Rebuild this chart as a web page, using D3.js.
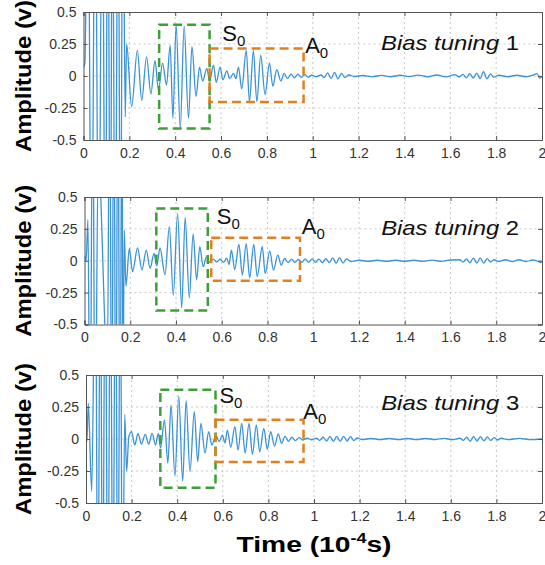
<!DOCTYPE html>
<html>
<head>
<meta charset="utf-8">
<script src="https://cdn.jsdelivr.net/npm/d3@7"></script>
<style>
  body { margin: 0; background: #fff; }
  svg { display: block; font-family: "Liberation Sans", Arial, sans-serif; }
  .grid line { stroke: #c8c8c8; stroke-dasharray: 2,3; }
</style>
</head>
<body>
<div id="chart"></div>
<script>

// ---------- data ----------

var timeTicks = [0, 0.2, 0.4, 0.6, 0.8, 1, 1.2, 1.4, 1.6, 1.8, 2];
var ampTicks = [-0.5, -0.25, 0, 0.25, 0.5];
var ampLabels = ["-0.5", "-0.25", "0", "0.25", "0.5"];
var tuningNames = ["1", "2", "3"];

// extrema of each trace [time (1e-4 s), amplitude (v)]
var signal1 = [
  [0,0.07],[0.006,0.1],[0.019,1.8],[0.035,-1.8],[0.051,1.8],[0.066,-1.8],[0.082,1.8],[0.095,-1.8],
  [0.106,1.8],[0.117,-1.8],[0.126,1.8],[0.138,-1.8],[0.151,1.8],[0.161,-1.8],[0.172,1.8],
  [0.182,-0.32],[0.188,0.25],[0.21,-0.24],[0.235,0.2],[0.254,-0.19],[0.275,0.15],[0.294,-0.14],
  [0.312,0.12],[0.327,-0.11],[0.345,0.1],[0.362,-0.07],[0.378,0.24],[0.39,-0.33],[0.404,0.4],
  [0.422,-0.41],[0.439,0.39],[0.458,-0.33],[0.473,0.23],[0.491,-0.16],[0.506,0.07],[0.52,-0.04],
  [0.538,0.06],[0.55,-0.04],[0.567,0.085],[0.579,-0.05],[0.596,0.07],[0.608,-0.03],[0.625,0.04],
  [0.638,-0.02],[0.654,0.02],[0.665,-0.02],[0.676,0.07],[0.69,-0.1],[0.71,0.2],[0.724,-0.2],
  [0.741,0.2],[0.756,-0.2],[0.773,0.16],[0.792,-0.145],[0.811,0.1],[0.826,-0.08],[0.843,0.05],
  [0.861,-0.04],[0.875,0.02],[0.89,-0.02],[0.905,0.015],[0.92,-0.015],[0.935,0.015],[0.95,-0.01],
  [0.965,0.012],[0.98,-0.01],[0.995,0.006],[1.015,-0.006],[1.035,0.008],[1.05,-0.012],[1.065,0.024],
  [1.08,-0.02],[1.095,0.028],[1.11,-0.022],[1.125,0.02],[1.14,-0.012],[1.158,0.008],[1.18,-0.004],
  [1.22,0.004],[1.26,-0.005],[1.3,0.005],[1.34,-0.006],[1.38,0.006],[1.42,-0.005],[1.46,0.007],
  [1.5,-0.006],[1.54,0.008],[1.58,-0.007],[1.62,0.01],[1.64,-0.008],[1.655,0.012],[1.67,-0.014],
  [1.685,0.018],[1.7,-0.016],[1.715,0.022],[1.73,-0.02],[1.745,0.034],[1.76,-0.022],[1.775,0.016],
  [1.79,-0.01],[1.81,0.006],[1.85,-0.006],[1.89,0.006],[1.93,-0.006],[1.96,0.006],[1.978,0.018],
  [1.99,-0.018],[2,0]
];
var signal2 = [
  [0,0.04],[0.007,0],[0.015,0.32],[0.024,-1.6],[0.036,1.6],[0.046,-1.6],[0.06,0.8],[0.1,-0.8],
  [0.11,1.6],[0.119,-1.6],[0.128,1.6],[0.137,-1.6],[0.146,1.6],[0.155,-1.6],[0.164,1.6],[0.168,-1.2],
  [0.174,0.24],[0.181,-0.2],[0.196,0.096],[0.21,-0.086],[0.232,0.1],[0.251,-0.073],[0.27,0.083],
  [0.287,-0.06],[0.304,0.057],[0.316,-0.04],[0.33,0.1],[0.352,-0.11],[0.371,0.27],[0.388,-0.27],
  [0.407,0.37],[0.425,-0.37],[0.44,0.34],[0.458,-0.29],[0.475,0.21],[0.49,-0.15],[0.504,0.11],
  [0.519,-0.047],[0.533,0.03],[0.548,-0.015],[0.563,0.012],[0.578,-0.01],[0.593,0.012],[0.608,-0.012],
  [0.622,0.02],[0.632,-0.03],[0.642,0.083],[0.657,-0.07],[0.675,0.128],[0.69,-0.11],[0.707,0.135],
  [0.722,-0.133],[0.74,0.128],[0.755,-0.125],[0.777,0.11],[0.79,-0.1],[0.81,0.075],[0.826,-0.073],
  [0.845,0.044],[0.86,-0.034],[0.875,0.018],[0.89,-0.015],[0.905,0.012],[0.92,-0.012],[0.935,0.01],
  [0.95,-0.012],[0.965,0.014],[0.98,-0.012],[0.995,0.014],[1.01,-0.012],[1.025,0.012],[1.04,-0.014],
  [1.055,0.016],[1.07,-0.014],[1.085,0.022],[1.1,-0.02],[1.115,0.024],[1.13,-0.018],[1.145,0.014],
  [1.165,-0.006],[1.2,0.004],[1.24,-0.004],[1.28,0.004],[1.32,-0.004],[1.36,0.004],[1.4,-0.004],
  [1.44,0.004],[1.48,-0.004],[1.52,0.005],[1.56,-0.005],[1.6,0.006],[1.64,0.008],[1.655,-0.01],
  [1.67,0.014],[1.685,-0.016],[1.7,0.02],[1.715,-0.018],[1.73,0.022],[1.745,-0.018],[1.76,0.016],
  [1.775,-0.01],[1.79,0.008],[1.81,-0.006],[1.84,0.008],[1.87,-0.006],[1.9,0.008],[1.93,-0.006],
  [1.96,0.006],[1.985,-0.006],[1.995,-0.015],[2,-0.005]
];
var signal3 = [
  [0,0],[0.004,-0.02],[0.01,0.28],[0.025,-0.41],[0.041,1.6],[0.052,-1.6],[0.063,1.6],[0.073,-1.6],
  [0.084,1.6],[0.096,-1.6],[0.107,1.6],[0.118,-1.6],[0.129,1.6],[0.14,-1.6],[0.15,1.6],[0.16,-1.6],
  [0.17,0.19],[0.178,-0.25],[0.188,0.02],[0.2,0.057],[0.214,-0.047],[0.228,0.044],[0.243,-0.04],
  [0.26,0.036],[0.275,-0.04],[0.29,0.044],[0.305,-0.047],[0.317,0.044],[0.327,-0.07],[0.344,0.15],
  [0.359,-0.19],[0.373,0.265],[0.39,-0.29],[0.407,0.335],[0.424,-0.33],[0.439,0.3],[0.456,-0.255],
  [0.475,0.213],[0.49,-0.177],[0.504,0.122],[0.522,-0.11],[0.538,0.057],[0.552,-0.047],[0.57,0.03],
  [0.584,-0.02],[0.598,0.03],[0.61,-0.03],[0.62,0.07],[0.635,-0.065],[0.653,0.096],[0.667,-0.086],
  [0.683,0.122],[0.698,-0.11],[0.715,0.122],[0.73,-0.12],[0.747,0.11],[0.762,-0.1],[0.78,0.083],
  [0.795,-0.08],[0.81,0.057],[0.827,-0.055],[0.843,0.039],[0.858,-0.034],[0.873,0.02],[0.888,-0.018],
  [0.903,0.014],[0.918,-0.012],[0.935,0.01],[0.95,-0.008],[0.97,0.006],[0.99,-0.006],[1.01,0.006],
  [1.025,-0.01],[1.04,0.014],[1.055,-0.016],[1.07,0.02],[1.085,-0.018],[1.1,0.02],[1.115,-0.018],
  [1.13,0.02],[1.145,-0.016],[1.16,0.018],[1.175,-0.012],[1.19,0.008],[1.21,-0.004],[1.25,0.004],
  [1.29,-0.004],[1.33,0.004],[1.37,-0.004],[1.41,0.004],[1.45,-0.004],[1.49,0.004],[1.53,-0.004],
  [1.57,0.005],[1.61,-0.005],[1.64,0.006],[1.655,-0.01],[1.67,0.014],[1.685,-0.018],[1.7,0.02],
  [1.715,-0.016],[1.73,0.018],[1.745,-0.014],[1.76,0.016],[1.775,-0.012],[1.79,0.01],[1.805,-0.008],
  [1.82,0.006],[1.85,-0.005],[1.9,0.005],[1.95,-0.005],[2,0]
];
var signals = [signal1, signal2, signal3];

// dashed mode windows [t0, t1, vTop, vBottom]
var s0Boxes = [[0.33, 0.55, 0.40, -0.41], [0.314, 0.539, 0.41, -0.39], [0.326, 0.568, 0.385, -0.38]];
var a0Boxes = [[0.55, 0.96, 0.214, -0.203], [0.554, 0.942, 0.18, -0.157], [0.568, 0.954, 0.15, -0.18]];
// label anchors [t, v]
var s0Labels = [[0.605, 0.27], [0.578, 0.29], [0.585, 0.28]];
var a0Labels = [[0.967, 0.18], [0.95, 0.21], [0.953, 0.156]];
var tuningLabels = [[1.9, 0.2], [1.9, 0.2], [1.9, 0.23]];

// ---------- layout ----------
var W = 545, H = 565;
var panels = [
  { left: 83.5, right: 542, top: 12, bottom: 140 },
  { left: 84.5, right: 542, top: 197, bottom: 324.5 },
  { left: 86, right: 542, top: 375, bottom: 503 }
];
var lineColor = "#3b93d8", greenC = "#3e9e38", orangeC = "#e47f1e";

var svg = d3.select("#chart").append("svg").attr("width", W).attr("height", H);

panels.forEach(function (p, i) {
  var x = d3.scaleLinear().domain([0, 2]).range([p.left, p.right]);
  var y = d3.scaleLinear().domain([-0.5, 0.5]).range([p.bottom, p.top]);
  var g = svg.append("g");

  // grid
  var grid = g.append("g").attr("class", "grid");
  grid.selectAll(".gx").data(timeTicks.slice(1, -1)).enter().append("line")
    .attr("x1", function (d) { return x(d); }).attr("x2", function (d) { return x(d); })
    .attr("y1", p.top).attr("y2", p.bottom);
  grid.selectAll(".gy").data(ampTicks.slice(1, -1)).enter().append("line")
    .attr("y1", function (d) { return y(d); }).attr("y2", function (d) { return y(d); })
    .attr("x1", p.left).attr("x2", p.right);

  // clip + trace
  var cid = "clip" + i;
  svg.append("clipPath").attr("id", cid).append("rect")
    .attr("x", p.left).attr("y", p.top).attr("width", p.right - p.left).attr("height", p.bottom - p.top);

  var line = d3.line()
    .x(function (d) { return x(d[0]); })
    .y(function (d) { return y(d[1]); })
    .curve(d3.curveMonotoneX);

  g.append("path").datum(signals[i])
    .attr("clip-path", "url(#" + cid + ")")
    .attr("d", line)
    .attr("fill", "none").attr("stroke", lineColor).attr("stroke-width", 1.3);

  // axes (inward ticks like matlab)
  var xAx = g.append("g").attr("transform", "translate(0," + p.bottom + ")")
    .call(d3.axisBottom(x).tickValues(timeTicks).tickSize(-4).tickPadding(8).tickFormat(d3.format("~g")));
  var xTop = g.append("g").attr("transform", "translate(0," + p.top + ")")
    .call(d3.axisTop(x).tickValues(timeTicks).tickSize(-4).tickFormat(""));
  var yAx = g.append("g").attr("transform", "translate(" + p.left + ",0)")
    .call(d3.axisLeft(y).tickValues(ampTicks).tickSize(-4).tickPadding(7)
      .tickFormat(function (d, k) { return ampLabels[k]; }));
  var yR = g.append("g").attr("transform", "translate(" + p.right + ",0)")
    .call(d3.axisRight(y).tickValues(ampTicks).tickSize(-4).tickFormat(""));
  [xAx, xTop, yAx, yR].forEach(function (a) {
    a.select(".domain").attr("stroke", "#555");
    a.selectAll(".tick line").attr("stroke", "#555");
    a.selectAll("text").attr("fill", "#333").style("font-size", "14px");
  });

  // dashed boxes
  [[s0Boxes[i], greenC], [a0Boxes[i], orangeC]].forEach(function (b) {
    var d = b[0];
    g.append("rect")
      .attr("x", x(d[0])).attr("y", y(d[2]))
      .attr("width", x(d[1]) - x(d[0])).attr("height", y(d[3]) - y(d[2]))
      .attr("fill", "none").attr("stroke", b[1]).attr("stroke-width", 2.5)
      .attr("stroke-dasharray", "9,5");
  });

  // S0 / A0
  [[s0Labels[i], "S"], [a0Labels[i], "A"]].forEach(function (l) {
    var t = g.append("text").attr("x", x(l[0][0])).attr("y", y(l[0][1]))
      .attr("font-size", 22).attr("fill", "#111");
    t.append("tspan").text(l[1]);
    t.append("tspan").attr("dy", 5).attr("font-size", 15).text("0");
  });

  // tuning label
  var tl = g.append("text").attr("x", x(tuningLabels[i][0])).attr("y", y(tuningLabels[i][1]))
    .attr("text-anchor", "end").attr("font-size", 21).attr("fill", "#111")
    .attr("textLength", 138).attr("lengthAdjust", "spacingAndGlyphs");
  tl.append("tspan").attr("font-style", "italic").text("Bias tuning");
  tl.append("tspan").text("\u00a0" + tuningNames[i]);

  // y label
  svg.append("text")
    .attr("transform", "translate(31," + ((p.top + p.bottom) / 2) + ") rotate(-90)")
    .attr("text-anchor", "middle").attr("font-size", 22).attr("font-weight", "bold")
    .attr("textLength", 152).attr("lengthAdjust", "spacingAndGlyphs")
    .attr("fill", "#000").text("Amplitude (v)");
});

// x label
var xl = svg.append("text").attr("x", 314).attr("y", 552).attr("text-anchor", "middle")
  .attr("font-size", 22).attr("font-weight", "bold").attr("fill", "#000")
  .attr("textLength", 155).attr("lengthAdjust", "spacingAndGlyphs");
xl.append("tspan").text("Time (10");
xl.append("tspan").attr("dy", -9).attr("font-size", 14).text("-4");
xl.append("tspan").attr("dy", 9).text("s)");

</script>
</body>
</html>
